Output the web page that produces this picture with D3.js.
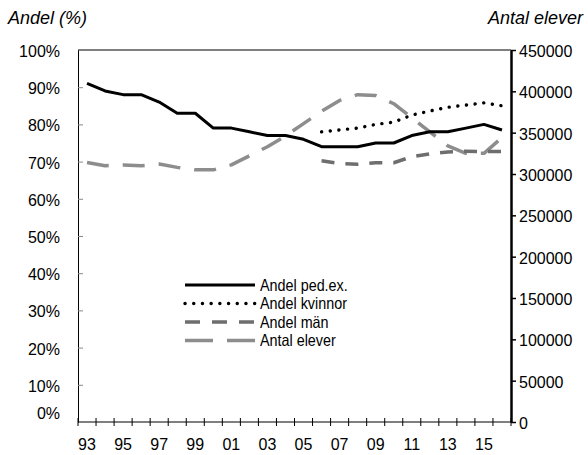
<!DOCTYPE html>
<html>
<head>
<meta charset="utf-8">
<script src="https://cdn.jsdelivr.net/npm/d3@7"></script>
<style>
  html, body { margin: 0; padding: 0; background: #fff; }
  svg { display: block; }
  .num { font-family: "Liberation Sans", Arial, sans-serif; font-size: 16px; fill: #000; }
  .leg { font-family: "Liberation Sans", Arial, sans-serif; font-size: 16.5px; fill: #000; }
  .ttl { font-family: "Liberation Sans", Arial, sans-serif; font-style: italic; font-size: 18px; fill: #000; }
</style>
</head>
<body>
<script>
// ---- data ----
const years = ["93","94","95","96","97","98","99","00","01","02","03","04","05","06","07","08","09","10","11","12","13","14","15","16"];
const yearLabels = ["93","95","97","99","01","03","05","07","09","11","13","15"];
const andelPedex = [91, 89, 88, 88, 86, 83, 83, 79, 79, 78, 77, 77, 76, 74, 74, 74, 75, 75, 77, 78, 78, 79, 80, 78.5];
const kvinnorYears = ["06","07","08","09","10","11","12","13","14","15","16"];
const andelKvinnor = [78, 78.5, 79, 80, 80.6, 82.5, 83.6, 84.6, 85.2, 85.8, 85];
const andelMan = [70.2, 69.5, 69.3, 69.7, 69.7, 71.3, 72.1, 72.6, 72.8, 72.7, 72.7];
const antalElever = [314000, 310000, 311000, 310000, 312000, 308000, 305000, 305000, 311000, 322000, 333000, 346000, 361000, 376000, 389000, 396000, 395000, 385000, 368000, 351000, 334000, 325000, 325000, 344000];
const leftTicks = [0,10,20,30,40,50,60,70,80,90,100];
const rightTicks = [0,50000,100000,150000,200000,250000,300000,350000,400000,450000];
const legendItems = ["Andel ped.ex.", "Andel kvinnor", "Andel män", "Antal elever"];

// ---- layout ----
const W = 588, H = 455;
const m = { left: 78, right: 511, top: 50, bottom: 422 };

const svg = d3.select("body").append("svg").attr("width", W).attr("height", H);

const x = d3.scaleBand().domain(years).range([m.left, m.right]).padding(0);
const xc = d => x(d) + x.bandwidth() / 2;
const yL = d3.scaleLinear().domain([0, 100]).range([m.bottom, m.top]);
const yR = d3.scaleLinear().domain([0, 450000]).range([m.bottom, m.top]);

// top border
svg.append("line").attr("x1", m.left).attr("x2", m.right).attr("y1", m.top).attr("y2", m.top)
  .attr("stroke", "#000").attr("stroke-width", 1);

// left axis
const gL = svg.append("g").attr("transform", `translate(${m.left},0)`)
  .call(d3.axisLeft(yL).tickValues(leftTicks).tickFormat(d => d + "%").tickSizeInner(-5).tickSizeOuter(0).tickPadding(18));
gL.select(".domain").attr("stroke", "#000").attr("stroke-width", 1);
gL.selectAll(".tick line").attr("stroke", "#888").attr("stroke-width", 1)
  .attr("display", d => (d === 0 || d === 100) ? "none" : null);
gL.selectAll(".tick text").attr("class", "num").attr("font-family", null).attr("font-size", null)
  .attr("dy", d => d === 0 ? "-0.25em" : "0.4em");

// right axis
const gR = svg.append("g").attr("transform", `translate(${m.right},0)`)
  .call(d3.axisRight(yR).tickValues(rightTicks).tickFormat(d => String(d)).tickSizeInner(5).tickSizeOuter(0).tickPadding(3));
gR.select(".domain").attr("stroke", "#000").attr("stroke-width", 2.5);
gR.selectAll(".tick line").attr("stroke", "#000").attr("stroke-width", 1.5);
gR.selectAll(".tick text").attr("class", "num").attr("font-family", null).attr("font-size", null).attr("dy", "0.4em");

// bottom axis: line + ticks at band edges crossing the axis
const gB = svg.append("g").attr("transform", `translate(0,${m.bottom})`);
gB.append("line").attr("x1", m.left).attr("x2", m.right).attr("stroke", "#000").attr("stroke-width", 1);
const edges = years.map(d => x(d)).concat([x(years[years.length - 1]) + x.bandwidth()]);
gB.selectAll("line.tk").data(edges).join("line").attr("class", "tk")
  .attr("x1", d => d).attr("x2", d => d).attr("y1", -4).attr("y2", 4)
  .attr("stroke", "#000").attr("stroke-width", 1);
gB.selectAll("text").data(yearLabels).join("text").attr("class", "num")
  .attr("x", d => xc(d)).attr("y", 28).attr("text-anchor", "middle").text(d => d);

// titles
svg.append("text").attr("class", "ttl").attr("x", 8).attr("y", 24).text("Andel (%)");
svg.append("text").attr("class", "ttl").attr("x", 583).attr("y", 24).attr("text-anchor", "end").text("Antal elever");

// series
const lineL = d3.line().x(d => xc(d[0])).y(d => yL(d[1]));
const lineR = d3.line().x(d => xc(d[0])).y(d => yR(d[1]));

const styles = [
  { stroke: "#000", width: 3, dash: null, cap: "butt" },
  { stroke: "#000", width: 3.4, dash: "0.1 8.6", cap: "round" },
  { stroke: "#6e6e6e", width: 3.5, dash: "13 11", cap: "butt" },
  { stroke: "#8d8d8d", width: 3.5, dash: "22 14", cap: "butt" }
];

function drawPath(d, st, gen) {
  svg.append("path").datum(d).attr("d", gen).attr("fill", "none")
    .attr("stroke", st.stroke).attr("stroke-width", st.width)
    .attr("stroke-dasharray", st.dash).attr("stroke-linecap", st.cap)
    .attr("stroke-linejoin", "round");
}

drawPath(years.map((y, i) => [y, antalElever[i]]), styles[3], lineR);
drawPath(kvinnorYears.map((y, i) => [y, andelMan[i]]), styles[2], lineL);
drawPath(kvinnorYears.map((y, i) => [y, andelKvinnor[i]]), styles[1], lineL);
drawPath(years.map((y, i) => [y, andelPedex[i]]), styles[0], lineL);

// legend
const lg = svg.append("g");
const legY = [285, 303.5, 322, 340.5];
legendItems.forEach((t, i) => {
  const st = styles[i];
  lg.append("line").attr("x1", 185).attr("x2", 255).attr("y1", legY[i]).attr("y2", legY[i])
    .attr("stroke", st.stroke).attr("stroke-width", st.width)
    .attr("stroke-dasharray", i === 2 ? "15 12" : i === 3 ? "28 14" : st.dash)
    .attr("stroke-linecap", st.cap);
  lg.append("text").attr("class", "leg")
    .attr("transform", `translate(260,${legY[i]}) scale(0.87,1)`)
    .attr("dy", "0.36em").text(t);
});
</script>
</body>
</html>
